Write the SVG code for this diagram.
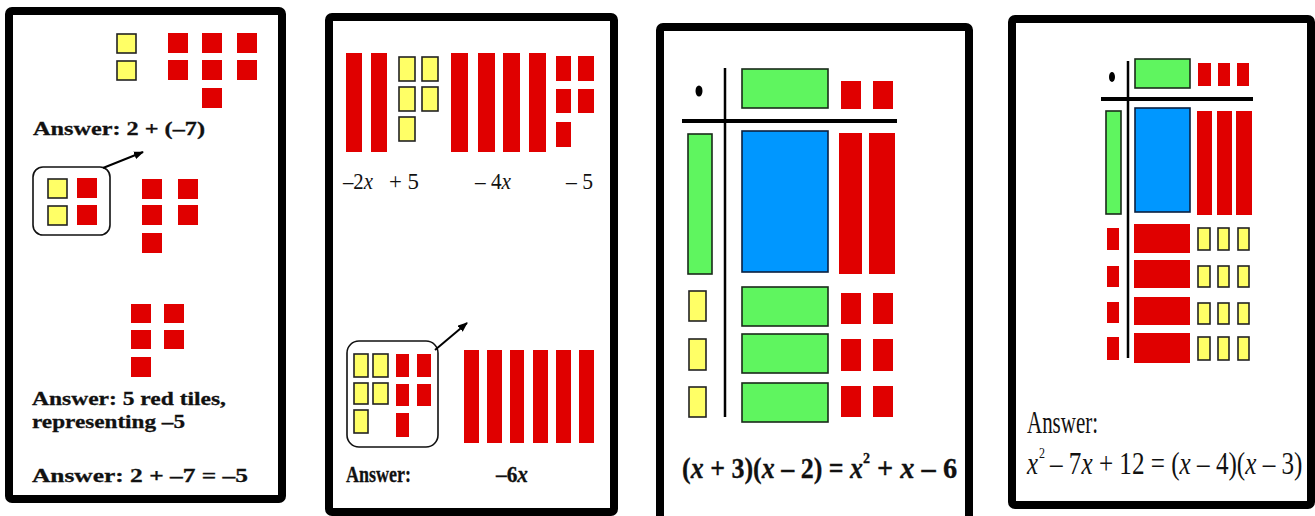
<svg xmlns="http://www.w3.org/2000/svg" width="1315" height="516" viewBox="0 0 1315 516">
<style>
.frame{fill:#fff;stroke:#000;stroke-width:8}
.r{fill:#e00000}
.y{fill:#ffff66;stroke:#222;stroke-width:1.6}
.g{fill:#5ff55f;stroke:#1a2a1a;stroke-width:1.6}
.b{fill:#0097ff;stroke:#0a2040;stroke-width:1.6}
.box{fill:none;stroke:#111;stroke-width:1.6}
.ln{stroke:#000;fill:none}
.tb{font-family:"Liberation Serif",serif;font-weight:bold;fill:#111;stroke:#111;stroke-width:0.3}
.tr{font-family:"Liberation Serif",serif;fill:#111}
.i{font-style:italic}
.arrow{stroke:#000;stroke-width:2;fill:none;marker-end:url(#ah)}
</style>
<defs>
<marker id="ah" markerWidth="10" markerHeight="8" refX="9" refY="4" orient="auto" markerUnits="userSpaceOnUse" viewBox="0 0 10 8">
<path d="M0,0 L10,4 L0,8 Z" fill="#000"/>
</marker>
</defs>
<rect width="1315" height="516" fill="#fff"/>

<g id="panel1">
<rect class="frame" x="9" y="11" width="273" height="488" rx="3"/>
<rect class="y" x="117" y="34" width="19" height="19"/>
<rect class="y" x="117" y="61" width="19" height="19"/>
<rect class="r" x="168" y="33" width="20" height="20"/>
<rect class="r" x="202" y="33" width="20" height="20"/>
<rect class="r" x="237" y="33" width="20" height="20"/>
<rect class="r" x="168" y="60" width="20" height="20"/>
<rect class="r" x="202" y="60" width="20" height="20"/>
<rect class="r" x="237" y="60" width="20" height="20"/>
<rect class="r" x="202" y="88" width="20" height="20"/>
<text class="tb" x="33" y="135" font-size="19" textLength="172" lengthAdjust="spacingAndGlyphs">Answer: 2  +  (–7)</text>
<g id="p1-box">
<rect class="box" x="33" y="167" width="77" height="68" rx="10"/>
<rect class="y" x="48" y="179" width="19" height="19"/>
<rect class="y" x="48" y="206" width="19" height="19"/>
<rect class="r" x="77" y="178" width="20" height="20"/>
<rect class="r" x="77" y="205" width="20" height="20"/>
</g>
<rect class="r" x="142" y="179" width="20" height="20"/>
<rect class="r" x="178" y="179" width="20" height="20"/>
<rect class="r" x="142" y="205" width="20" height="20"/>
<rect class="r" x="178" y="205" width="20" height="20"/>
<rect class="r" x="142" y="233" width="20" height="20"/>
<rect class="r" x="131" y="304" width="20" height="19"/>
<rect class="r" x="164" y="304" width="20" height="19"/>
<rect class="r" x="131" y="330" width="20" height="19"/>
<rect class="r" x="164" y="330" width="20" height="19"/>
<rect class="r" x="131" y="357" width="20" height="20"/>
<text class="tb" x="32" y="405" font-size="19" textLength="194" lengthAdjust="spacingAndGlyphs">Answer: 5 red tiles,</text>
<text class="tb" x="32" y="428" font-size="19" textLength="153" lengthAdjust="spacingAndGlyphs">representing –5</text>
<text class="tb" x="32" y="482" font-size="19" textLength="216" lengthAdjust="spacingAndGlyphs">Answer: 2  +  –7  =  –5</text>
</g>

<g id="panel2">
<rect class="frame" x="329" y="17" width="285" height="495" rx="3"/>
<rect class="r" x="346" y="53" width="16" height="99"/>
<rect class="r" x="371" y="53" width="16" height="99"/>
<rect class="y" x="399" y="57" width="16" height="24"/>
<rect class="y" x="422" y="57" width="16" height="24"/>
<rect class="y" x="399" y="87" width="16" height="24"/>
<rect class="y" x="422" y="87" width="16" height="24"/>
<rect class="y" x="399" y="117" width="16" height="24"/>
<rect class="r" x="451" y="53" width="17" height="99"/>
<rect class="r" x="478" y="53" width="17" height="99"/>
<rect class="r" x="503" y="53" width="17" height="99"/>
<rect class="r" x="529" y="53" width="17" height="99"/>
<rect class="r" x="556" y="56" width="15" height="25"/>
<rect class="r" x="578" y="56" width="16" height="25"/>
<rect class="r" x="556" y="89" width="15" height="24"/>
<rect class="r" x="578" y="89" width="16" height="24"/>
<rect class="r" x="556" y="122" width="15" height="25"/>
<text class="tr" transform="translate(343,189) scale(0.865,1)" font-size="24">–2<tspan class="i">x</tspan></text>
<text class="tr" x="389" y="189" font-size="24" textLength="30" lengthAdjust="spacingAndGlyphs">+ 5</text>
<text class="tr" transform="translate(475,189) scale(0.885,1)" font-size="24">– 4<tspan class="i">x</tspan></text>
<text class="tr" x="566" y="189" font-size="24" textLength="27" lengthAdjust="spacingAndGlyphs">– 5</text>
<g id="p2-box">
<rect class="box" x="347" y="341" width="91" height="106" rx="12"/>
<rect class="y" x="354" y="354" width="14" height="23"/>
<rect class="y" x="373" y="354" width="15" height="23"/>
<rect class="y" x="354" y="383" width="14" height="21"/>
<rect class="y" x="373" y="383" width="15" height="21"/>
<rect class="y" x="354" y="410" width="14" height="23"/>
<rect class="r" x="396" y="354" width="13" height="23"/>
<rect class="r" x="417" y="354" width="14" height="23"/>
<rect class="r" x="396" y="384" width="13" height="22"/>
<rect class="r" x="417" y="384" width="14" height="22"/>
<rect class="r" x="396" y="413" width="13" height="24"/>
</g>
<rect class="r" x="464" y="350" width="15" height="93"/>
<rect class="r" x="487" y="350" width="15" height="93"/>
<rect class="r" x="510" y="350" width="14" height="93"/>
<rect class="r" x="533" y="350" width="15" height="93"/>
<rect class="r" x="556" y="350" width="15" height="93"/>
<rect class="r" x="579" y="350" width="15" height="93"/>
<text class="tb" x="346" y="482" font-size="23" textLength="65" lengthAdjust="spacingAndGlyphs">Answer:</text>
<text class="tb" transform="translate(496,482) scale(0.93,1)" font-size="23">–6<tspan class="i">x</tspan></text>
</g>

<g id="panel3">
<rect class="frame" x="660" y="27" width="309" height="500" rx="3"/>
<ellipse cx="699" cy="91" rx="3.5" ry="5.5" fill="#000"/>
<line class="ln" x1="725" y1="68" x2="725" y2="417" stroke-width="2.5"/>
<line class="ln" x1="682" y1="121" x2="897" y2="121" stroke-width="4"/>
<rect class="g" x="742" y="69" width="86" height="39"/>
<rect class="r" x="841" y="81" width="20" height="28"/>
<rect class="r" x="873" y="81" width="20" height="28"/>
<rect class="g" x="688" y="134" width="24" height="140"/>
<rect class="b" x="742" y="131" width="86" height="141"/>
<rect class="r" x="839" y="133" width="23" height="141"/>
<rect class="r" x="869" y="133" width="26" height="141"/>
<rect class="y" x="689" y="291" width="17" height="30"/>
<rect class="y" x="689" y="339" width="17" height="31"/>
<rect class="y" x="689" y="387" width="17" height="30"/>
<rect class="g" x="742" y="287" width="86" height="39"/>
<rect class="g" x="742" y="334" width="86" height="39"/>
<rect class="g" x="742" y="383" width="86" height="39"/>
<rect class="r" x="841" y="293" width="20" height="31"/>
<rect class="r" x="873" y="293" width="20" height="31"/>
<rect class="r" x="841" y="339" width="20" height="32"/>
<rect class="r" x="873" y="339" width="20" height="32"/>
<rect class="r" x="841" y="386" width="20" height="31"/>
<rect class="r" x="873" y="386" width="20" height="31"/>
<text class="tb" transform="translate(682,478) scale(0.896,1)" font-size="29">(<tspan class="i">x</tspan> + 3)(<tspan class="i">x</tspan> – 2) = <tspan class="i">x</tspan></text>
<text class="tb" x="863" y="463" font-size="15" textLength="7" lengthAdjust="spacingAndGlyphs">2</text>
<text class="tb" transform="translate(877,478) scale(0.98,1)" font-size="29">+ <tspan class="i">x</tspan> – 6</text>
</g>

<g id="panel4">
<rect class="frame" x="1012" y="19" width="299" height="486" rx="3"/>
<ellipse cx="1112" cy="77" rx="3" ry="5" fill="#000"/>
<line class="ln" x1="1128" y1="61" x2="1128" y2="358" stroke-width="2.5"/>
<line class="ln" x1="1101" y1="99" x2="1253" y2="99" stroke-width="4"/>
<rect class="g" x="1135" y="59" width="55" height="29"/>
<rect class="r" x="1198" y="63" width="13" height="23"/>
<rect class="r" x="1218" y="63" width="12" height="23"/>
<rect class="r" x="1237" y="63" width="12" height="23"/>
<rect class="g" x="1106" y="111" width="15" height="103"/>
<rect class="b" x="1135" y="108" width="55" height="104"/>
<rect class="r" x="1197" y="111" width="15" height="104"/>
<rect class="r" x="1217" y="111" width="15" height="104"/>
<rect class="r" x="1236" y="111" width="16" height="104"/>
<rect class="r" x="1107" y="228" width="12" height="22"/>
<rect class="r" x="1107" y="266" width="12" height="21"/>
<rect class="r" x="1107" y="302" width="12" height="21"/>
<rect class="r" x="1107" y="337" width="12" height="23"/>
<rect class="r" x="1134" y="224" width="56" height="29"/>
<rect class="r" x="1134" y="260" width="56" height="28"/>
<rect class="r" x="1134" y="297" width="56" height="28"/>
<rect class="r" x="1134" y="333" width="56" height="30"/>
<rect class="y" x="1198" y="228" width="12" height="22"/>
<rect class="y" x="1218" y="228" width="11" height="22"/>
<rect class="y" x="1238" y="228" width="11" height="22"/>
<rect class="y" x="1198" y="266" width="12" height="21"/>
<rect class="y" x="1218" y="266" width="11" height="21"/>
<rect class="y" x="1238" y="266" width="11" height="21"/>
<rect class="y" x="1198" y="303" width="12" height="21"/>
<rect class="y" x="1218" y="303" width="11" height="21"/>
<rect class="y" x="1238" y="303" width="11" height="21"/>
<rect class="y" x="1198" y="337" width="12" height="23"/>
<rect class="y" x="1218" y="337" width="11" height="23"/>
<rect class="y" x="1238" y="337" width="11" height="23"/>
<text class="tr" x="1027" y="433" font-size="31" textLength="71" lengthAdjust="spacingAndGlyphs">Answer:</text>
<text class="tr i" x="1027" y="474" font-size="32" textLength="11" lengthAdjust="spacingAndGlyphs">x</text>
<text class="tr" x="1039" y="458" font-size="15" textLength="6" lengthAdjust="spacingAndGlyphs">2</text>
<text class="tr" transform="translate(1050,474) scale(0.786,1)" font-size="32">– 7<tspan class="i">x</tspan> + 12 = (<tspan class="i">x</tspan> – 4)(<tspan class="i">x</tspan> – 3)</text>
</g>

<g id="connectors">
<line class="arrow" x1="103" y1="168" x2="143" y2="152"/>
<line class="arrow" x1="435" y1="350" x2="467" y2="323"/>
</g>
</svg>
